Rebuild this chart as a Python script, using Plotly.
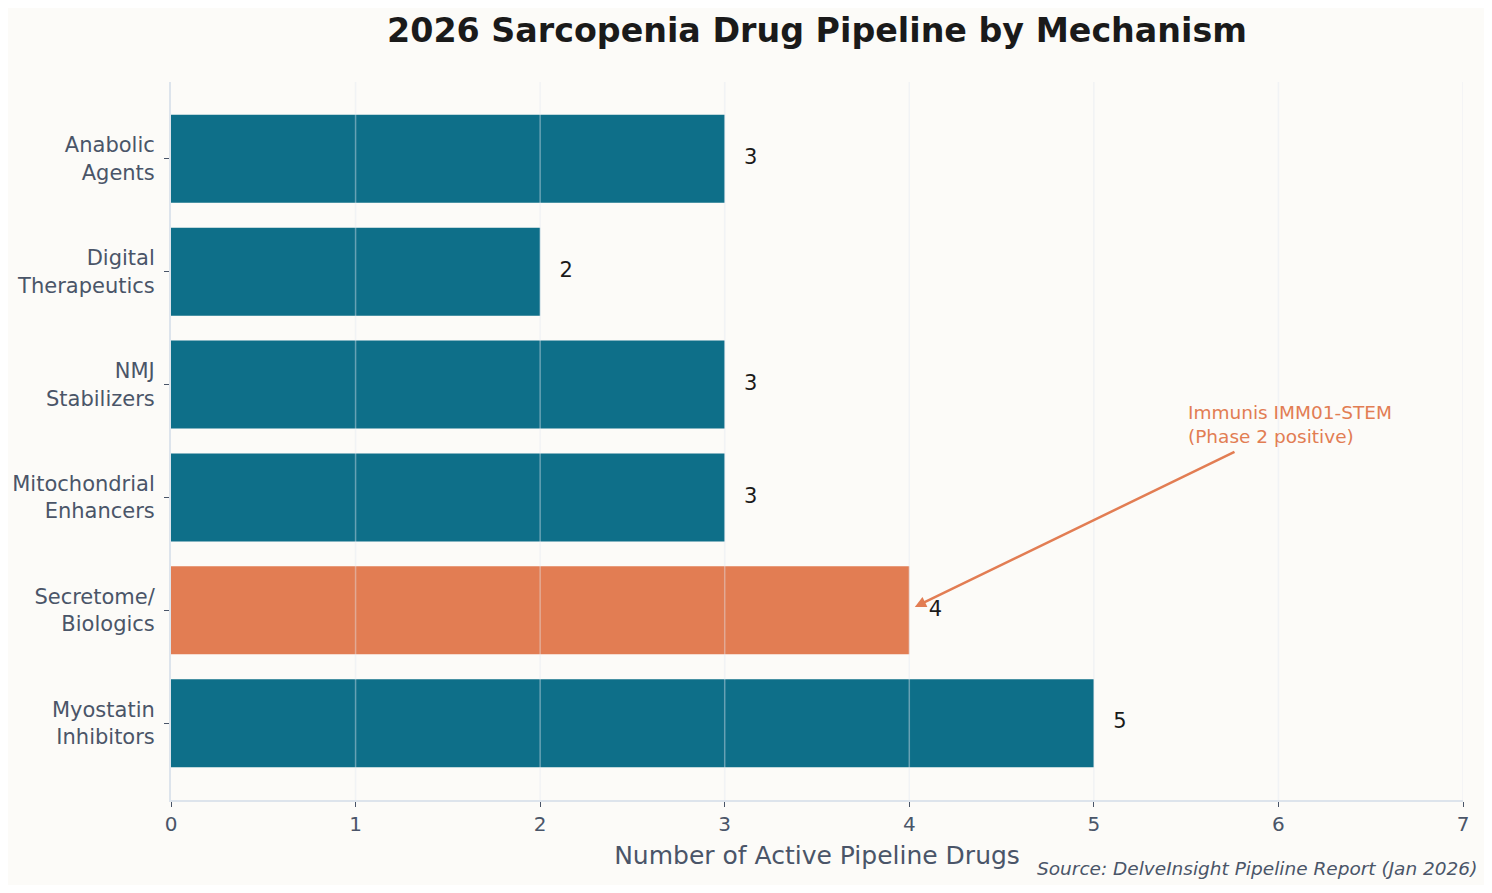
import plotly.graph_objects as go

# categories listed bottom to top (plotly puts the first category at the bottom)
mechanisms = ["Myostatin<br>Inhibitors", "Secretome/<br>Biologics",
              "Mitochondrial<br>Enhancers", "NMJ<br>Stabilizers",
              "Digital<br>Therapeutics", "Anabolic<br>Agents"]
drug_counts = [5, 4, 3, 3, 2, 3]
highlight = "Secretome/<br>Biologics"
x_ticks = [0, 1, 2, 3, 4, 5, 6, 7]

TEAL = "#0E6F89"
ORANGE = "#E27D53"
TEXT = "#4A5568"
BG = "#FCFBF8"
FONT = "DejaVu Sans"

bar_colors = [ORANGE if m == highlight else TEAL for m in mechanisms]

fig = go.Figure()
fig.add_trace(go.Bar(
    x=drug_counts,
    y=mechanisms,
    orientation="h",
    width=0.78,
    marker=dict(color=bar_colors, line=dict(width=0)),
    hoverinfo="skip",
))
# value labels just past the end of each bar
fig.add_trace(go.Scatter(
    x=[v + 0.105 for v in drug_counts],
    y=mechanisms,
    mode="text",
    text=[str(v) for v in drug_counts],
    textposition="middle right",
    textfont=dict(family=FONT, size=21, color="#1A1A1A"),
    hoverinfo="skip",
))

# vertical grid drawn over the bars, like the original
for t in x_ticks[1:]:
    fig.add_shape(type="line", x0=t, x1=t, y0=0, y1=1, xref="x", yref="paper",
                  line=dict(color="rgba(226,232,240,0.42)", width=1.5), layer="above")

hi = mechanisms.index(highlight)
# arrow from the note down to the highlighted bar
fig.add_annotation(
    x=drug_counts[hi] + 0.03, y=hi + 0.03, xref="x", yref="y",
    ax=5.77, ay=hi + 1.41, axref="x", ayref="y",
    text="", showarrow=True, arrowhead=2, arrowsize=0.9,
    arrowwidth=2.5, arrowcolor=ORANGE,
)
fig.add_annotation(
    x=5.50, y=hi + 1.65, xref="x", yref="y",
    text="Immunis IMM01-STEM<br>(Phase 2 positive)",
    showarrow=False, xanchor="left", yanchor="middle", align="left",
    font=dict(family=FONT, size=18.5, color=ORANGE),
)
fig.add_annotation(
    x=1.0125, y=-0.095, xref="paper", yref="paper",
    text="<i>Source: DelveInsight Pipeline Report (Jan 2026)</i>",
    showarrow=False, xanchor="right", yanchor="middle",
    font=dict(family=FONT, size=18.5, color=TEXT),
)

fig.update_layout(
    width=1476, height=877,
    margin=dict(l=163, r=21, t=74, b=85),
    paper_bgcolor=BG, plot_bgcolor=BG,
    showlegend=False,
    title=dict(text="<b>2026 Sarcopenia Drug Pipeline by Mechanism</b>",
               x=0.5, xref="paper", xanchor="center", y=0.975, yanchor="middle",
               font=dict(family=FONT, size=33.3, color="#1A1A1A")),
    font=dict(family=FONT, color=TEXT),
)
fig.update_xaxes(
    range=[0, 7], tickvals=x_ticks, ticktext=[str(t) for t in x_ticks],
    showgrid=False, zeroline=False, showline=True, linecolor="#DDE4EC", linewidth=2,
    ticks="outside", ticklen=5, tickcolor=TEXT, tickwidth=1,
    tickfont=dict(family=FONT, size=20, color=TEXT),
    title=dict(text="Number of Active Pipeline Drugs", standoff=11,
               font=dict(family=FONT, size=25, color=TEXT)),
    automargin=False,
)
fig.update_yaxes(
    range=[-0.68, 5.68], categoryorder="array", categoryarray=mechanisms,
    showgrid=False, zeroline=False, showline=True, linecolor="#DDE4EC", linewidth=2,
    ticks="outside", ticklen=5, tickcolor=TEXT, tickwidth=1,
    ticklabelstandoff=5, automargin=False,
    tickfont=dict(family=FONT, size=21, color=TEXT),
)

fig.write_html("out.html")
